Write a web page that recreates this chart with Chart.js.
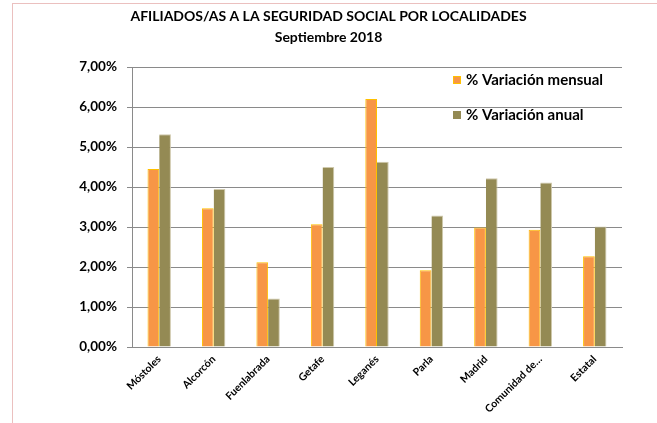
<!DOCTYPE html>
<html>
<head>
<meta charset="utf-8">
<script src="https://cdn.jsdelivr.net/npm/chart.js@4"></script>
<style>
  html, body { margin: 0; padding: 0; background: #fff; }
  #wrap { position: relative; width: 657px; height: 423px; overflow: hidden; }
  #frame { position: absolute; left: 12px; top: 3px; right: -2px; bottom: -2px;
           border-left: 1px solid #EBC0BF; border-top: 1px solid #EBC0BF; pointer-events: none; }
  canvas { position: absolute; left: 0; top: 0; }
</style>
</head>
<body>
<div id="wrap">
  <canvas id="c" width="657" height="423"></canvas>
  <div id="frame"></div>
</div>
<script>
const titleLines = ['AFILIADOS/AS A LA SEGURIDAD SOCIAL POR LOCALIDADES', 'Septiembre 2018'];
const categories = ['Móstoles', 'Alcorcón', 'Fuenlabrada', 'Getafe', 'Leganés', 'Parla', 'Madrid', 'Comunidad de…', 'Estatal'];
const seriesNames = ['% Variación mensual', '% Variación anual'];
const variacionMensual = [4.45, 3.47, 2.12, 3.07, 6.20, 1.92, 2.99, 2.93, 2.27];
const variacionAnual = [5.32, 3.95, 1.21, 4.50, 4.63, 3.29, 4.22, 4.11, 3.01];
const yTicks = [0, 1, 2, 3, 4, 5, 6, 7];

Chart.defaults.font.family = "Lato, 'Open Sans', 'DejaVu Sans', sans-serif";
Chart.defaults.color = '#000';

const GRID = '#8a8a8a';

const legendPlugin = {
  id: 'insideLegend',
  afterDraw(chart) {
    const ctx = chart.ctx;
    const a = chart.chartArea;
    ctx.save();
    ctx.font = "bold 15px Lato, 'Open Sans', sans-serif";
    ctx.textBaseline = 'middle';
    ctx.textAlign = 'left';
    chart.data.datasets.forEach((ds, i) => {
      const x = a.left + 321;
      const y = a.top + 13 + i * 35;
      ctx.fillStyle = ds.backgroundColor;
      ctx.fillRect(x, y - 4, 8, 8);
      if (ds.label === seriesNames[0]) {
        ctx.strokeStyle = ds.borderColor;
        ctx.lineWidth = 1;
        ctx.strokeRect(x + 0.5, y - 3.5, 7, 7);
      }
      ctx.fillStyle = '#000';
      ctx.fillText(ds.label, x + 13, y);
    });
    ctx.restore();
  }
};

new Chart(document.getElementById('c'), {
  type: 'bar',
  data: {
    labels: categories,
    datasets: [
      { label: seriesNames[0], data: variacionMensual, backgroundColor: '#F79646',
        borderColor: '#FFC000', borderWidth: { top: 1, left: 1, right: 1, bottom: 0 },
        categoryPercentage: 0.43, barPercentage: 1.0 },
      { label: seriesNames[1], data: variacionAnual, backgroundColor: '#948A54',
        borderColor: '#CFC9AC', borderWidth: { top: 1, left: 0, right: 1, bottom: 0 },
        categoryPercentage: 0.43, barPercentage: 1.0 }
    ]
  },
  options: {
    responsive: false,
    devicePixelRatio: 1,
    animation: false,
    layout: { padding: 0 },
    plugins: {
      legend: { display: false },
      tooltip: { enabled: false },
      title: {
        display: true,
        text: titleLines,
        color: '#000',
        font: { size: 14, weight: 'bold', lineHeight: 1.5 },
        padding: { top: 6, bottom: 19 }
      }
    },
    scales: {
      x: {
        grid: { display: false, drawTicks: false },
        border: { display: true, color: GRID, width: 1 },
        ticks: { minRotation: 45, maxRotation: 45, padding: 6, autoSkip: false,
                 font: { size: 10.5, weight: 'bold' }, color: '#000' },
        afterFit(scale) { scale.height = 76; }
      },
      y: {
        min: 0, max: 7,
        afterBuildTicks(scale) { scale.ticks = yTicks.map(v => ({ value: v })); },
        grid: { color: GRID, lineWidth: 1, tickLength: 5, drawTicks: true },
        border: { display: true, color: GRID, width: 1 },
        ticks: { padding: 10, font: { size: 13.5, weight: 'bold' }, color: '#000',
                 callback: v => v.toFixed(2).replace('.', ',') + '%' },
        afterFit(scale) { scale.width = 132; }
      },
      yRight: {
        position: 'right',
        min: 0, max: 7,
        grid: { display: false, drawTicks: false },
        border: { display: false },
        ticks: { display: false },
        afterFit(scale) { scale.width = 35; }
      }
    }
  },
  plugins: [legendPlugin]
});
</script>
</body>
</html>
